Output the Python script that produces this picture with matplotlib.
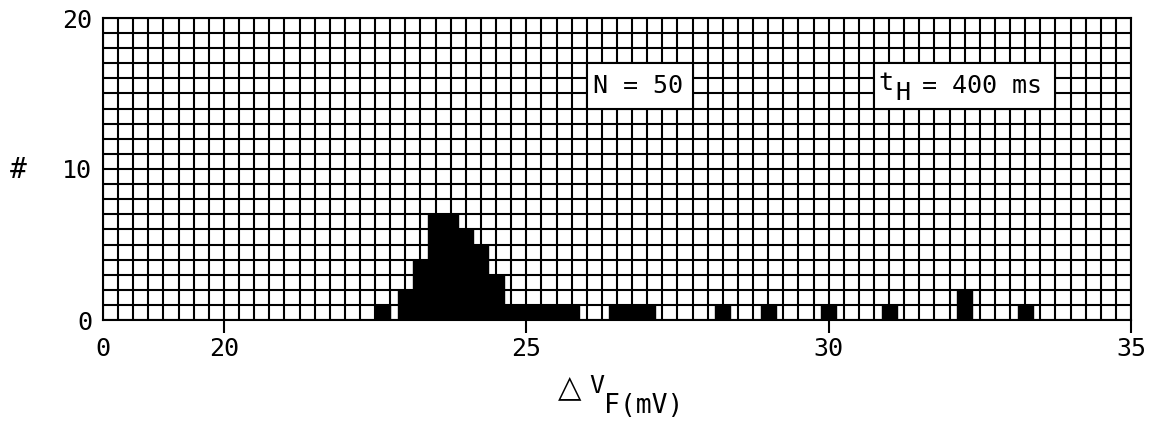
import matplotlib
matplotlib.use('Agg')
import matplotlib.pyplot as plt
from matplotlib.ticker import MultipleLocator
from matplotlib.patches import Rectangle

# histogram bins (bin centre in mV) and counts
bin_centres = [22.62, 23.0, 23.25, 23.5, 23.75, 24.0, 24.25, 24.5,
               24.75, 25.0, 25.25, 25.5, 25.75,
               26.5, 26.75, 27.0, 28.25, 29.0, 30.0, 31.0, 32.25, 33.25]
counts = [1, 2, 4, 7, 7, 6, 5, 3,
          1, 1, 1, 1, 1,
          1, 1, 1, 1, 1, 1, 1, 2, 1]

x_ticks = [18, 20, 25, 30, 35]
x_tick_labels = ['0', '20', '25', '30', '35']
y_ticks = [0, 10, 20]

n_label = 'N = 50'
t_label = 'H'

mono = 'DejaVu Sans Mono'
plt.rcParams['font.family'] = mono

fig = plt.figure(figsize=(11.53, 4.25), dpi=100)
ax = fig.add_axes([103/1153, 1-320/425, 1028/1153, 302/425])

ax.bar(bin_centres, counts, width=0.25, color='black', edgecolor='black',
       linewidth=1.0, zorder=3)

ax.set_xlim(18, 35)
ax.set_ylim(0, 20)
ax.xaxis.set_minor_locator(MultipleLocator(0.25))
ax.yaxis.set_minor_locator(MultipleLocator(1))
ax.grid(True, which='both', color='black', linewidth=1.5, zorder=1)
ax.set_axisbelow(True)
for s in ax.spines.values():
    s.set_linewidth(1.5)

ax.set_xticks(x_ticks)
ax.set_xticklabels(x_tick_labels)
ax.set_yticks(y_ticks)
ax.tick_params(axis='x', which='major', direction='out', length=9, width=1.5,
               pad=3, labelsize=18)
ax.tick_params(axis='y', which='major', length=0, pad=8, labelsize=18)
ax.tick_params(which='minor', length=0)
ax.xaxis.get_major_ticks()[0].tick1line.set_visible(False)

# annotation boxes
ax.add_patch(Rectangle((26.0, 14), 1.75, 3, facecolor='white', edgecolor='black',
                       linewidth=1.5, zorder=4))
ax.text(26.85, 15.5, n_label, ha='center', va='center', fontsize=18, zorder=5)
ax.add_patch(Rectangle((30.75, 14), 3.0, 3, facecolor='white', edgecolor='black',
                       linewidth=1.5, zorder=4))
ax.text(30.83, 15.7, 't', ha='left', va='center', fontsize=18, zorder=5)
ax.text(31.1, 15.0, t_label, ha='left', va='center', fontsize=18, zorder=5)
ax.text(31.55, 15.5, '= 400 ms', ha='left', va='center', fontsize=18, zorder=5)

# axis labels
fig.text(18/1153, 1-170/425, '#', ha='center', va='center', fontsize=20)
fig.text(570/1153, 1-388/425, '\u25b3', ha='center', va='center', fontsize=22,
         family='DejaVu Sans')
fig.text(597/1153, 1-386/425, 'V', ha='center', va='center', fontsize=18)
fig.text(644/1153, 1-406/425, 'F(mV)', ha='center', va='center', fontsize=19)

fig.savefig('out.png', dpi=100)
